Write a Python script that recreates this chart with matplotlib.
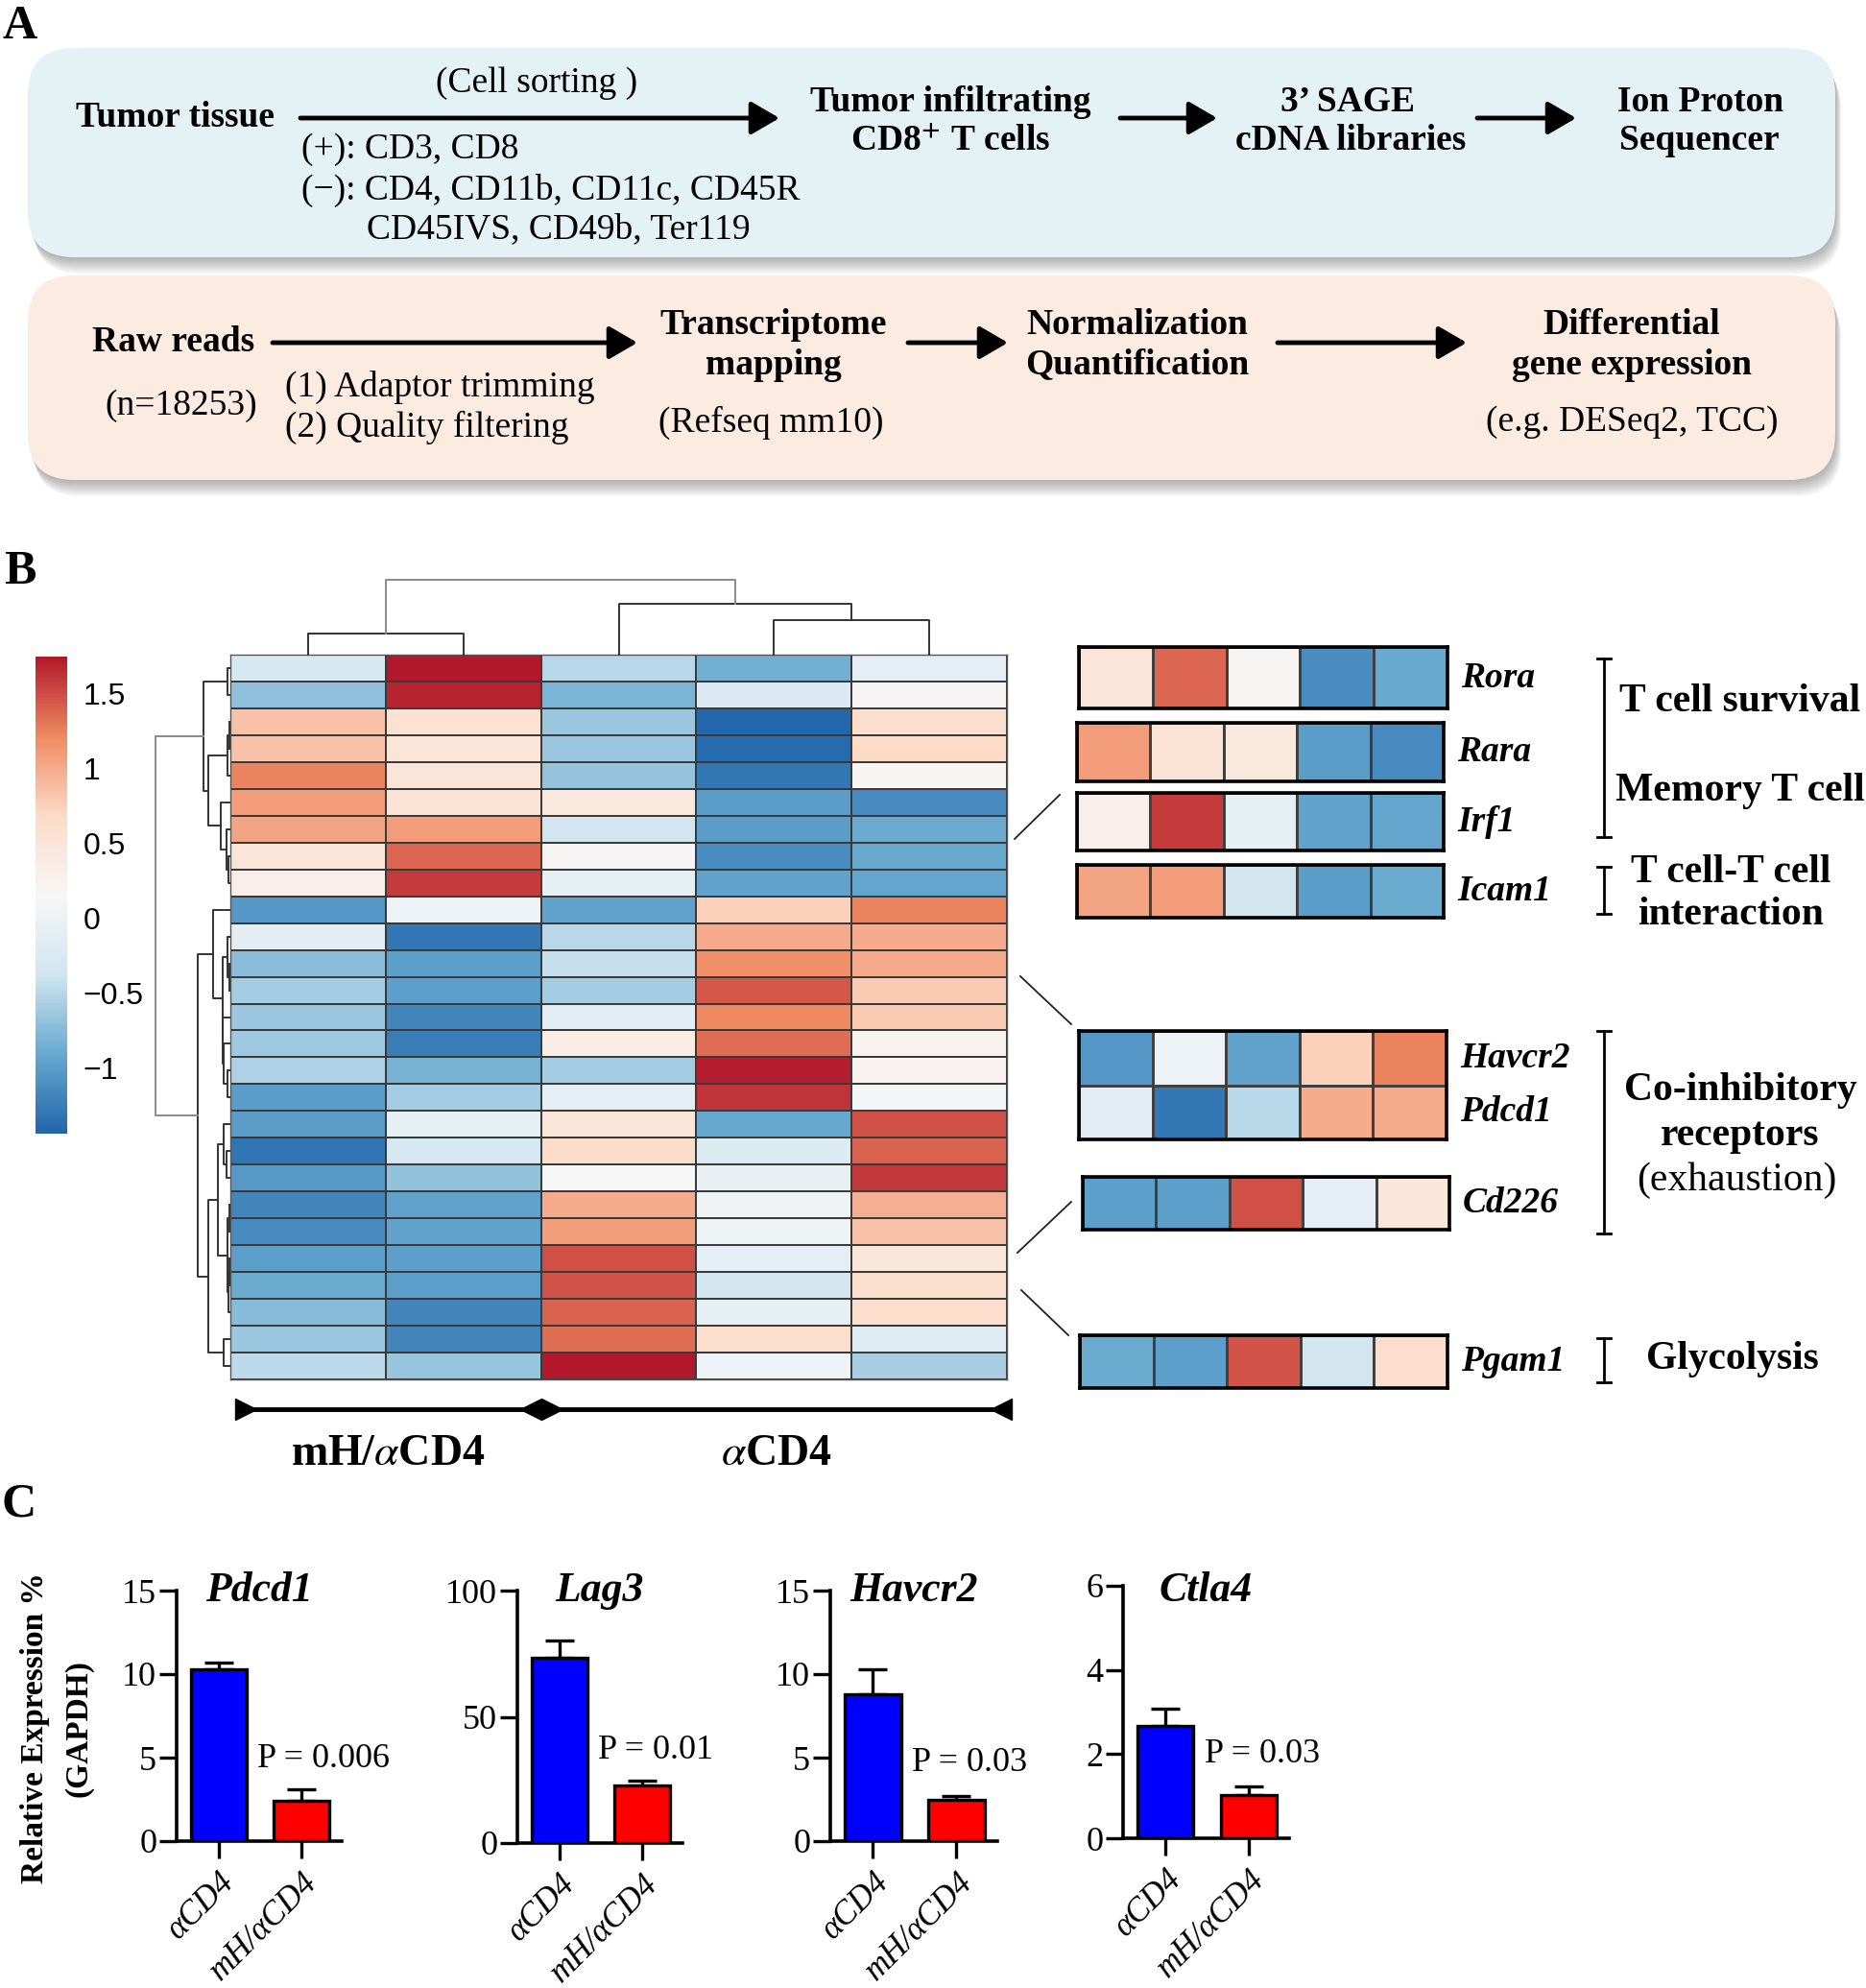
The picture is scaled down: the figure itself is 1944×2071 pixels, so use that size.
import numpy as np
import matplotlib
matplotlib.use('Agg')
import matplotlib.pyplot as plt
from matplotlib.colors import LinearSegmentedColormap
from matplotlib.patches import FancyBboxPatch

plt.rcParams['font.family'] = ['Liberation Serif', 'DejaVu Serif']
plt.rcParams['mathtext.fontset'] = 'stix'

W, H = 1944, 2071

# ---- panel B data: z-scores, 27 genes x 5 samples
heat_values = np.array([
    [-0.30, 1.75, -0.50, -0.85, -0.10],
    [-0.70, 1.70, -0.80, -0.25, 0.20],
    [0.85, 0.55, -0.65, -1.42, 0.62],
    [0.85, 0.50, -0.65, -1.40, 0.68],
    [1.25, 0.50, -0.67, -1.30, 0.20],
    [1.10, 0.52, 0.45, -1.00, -1.15],
    [1.05, 1.10, -0.35, -1.00, -0.88],
    [0.50, 1.38, 0.18, -1.12, -0.90],
    [0.30, 1.58, -0.08, -0.95, -0.93],
    [-1.05, 0.00, -0.95, 0.75, 1.25],
    [-0.12, -1.30, -0.50, 1.00, 1.00],
    [-0.72, -0.98, -0.43, 1.18, 1.00],
    [-0.60, -0.98, -0.60, 1.45, 0.80],
    [-0.65, -1.18, -0.12, 1.22, 0.80],
    [-0.62, -1.25, 0.35, 1.35, 0.25],
    [-0.55, -0.82, -0.60, 1.72, 0.23],
    [-1.00, -0.60, -0.10, 1.62, 0.10],
    [-1.00, -0.08, 0.50, -0.92, 1.48],
    [-1.32, -0.30, 0.65, -0.22, 1.40],
    [-1.03, -0.68, 0.15, -0.05, 1.60],
    [-1.18, -0.96, 1.00, 0.05, 0.97],
    [-1.15, -0.95, 1.08, 0.03, 0.85],
    [-0.98, -0.98, 1.48, -0.10, 0.47],
    [-0.88, -0.98, 1.47, -0.35, 0.62],
    [-0.75, -1.18, 1.40, -0.08, 0.62],
    [-0.65, -1.18, 1.35, 0.62, -0.20],
    [-0.48, -0.66, 1.75, 0.00, -0.58],
])
vmin, vmax = -1.44, 1.75

# dendrograms: (left, right, height) with leaves as row/column index
col_tree = ((0, 1, 22), (2, (3, 4, 36), 53), 78.5)
row_tree = (
    ((0, 1, 2.7),
     (((2, 3, 0.7), 4, 2.7), (5, (6, (7, 8, 1.0), 3.7), 9.3), 22.7), 27.0),
    ((9, ((10, (11, 12, 0.4), 2.7), (13, (14, (15, 16, 2.7), 6.7), 7.0), 7.7), 17.7),
     (((17, (18, 19, 3.3), 6.0), ((20, 21, 0.7), ((22, 23, 0.4), 24, 1.0), 2.7), 12.0),
      (25, 26, 6.7), 22.0), 33.7),
    77.7)

cbar_ticks = [1.5, 1, 0.5, 0, -0.5, -1]
cbar_labels = ['1.5', '1', '0.5', '0', '\u22120.5', '\u22121']

gene_names = ['Rora', 'Rara', 'Irf1', 'Icam1', 'Havcr2', 'Pdcd1', 'Cd226', 'Pgam1']
gene_rows = [7, 5, 8, 6, 9, 10, 22, 23]
gene_panels = [[0], [1], [2], [3], [4, 5], [6], [7]]

group_names = ['mH/$\\alpha$CD4', '$\\alpha$CD4']

# ---- panel C data
bar_genes = ['Pdcd1', 'Lag3', 'Havcr2', 'Ctla4']
bar_groups = ['\u03b1CD4', 'mH/\u03b1CD4']
bar_means = [[10.3, 2.4], [73.2, 22.9], [8.8, 2.45], [2.68, 1.02]]
bar_errs = [[0.38, 0.72], [7.0, 2.0], [1.5, 0.27], [0.39, 0.22]]
y_max = [15, 100, 15, 6]
y_ticks = [[0, 5, 10, 15], [0, 50, 100], [0, 5, 10, 15], [0, 2, 4, 6]]
p_texts = ['P = 0.006', 'P = 0.01', 'P = 0.03', 'P = 0.03']
p_y = [4.9, 36.8, 4.7, 2.0]

fig = plt.figure(figsize=(W / 100, H / 100), dpi=100)


def add_ax(x0, y0, x1, y1):
    return fig.add_axes([x0 / W, 1 - y1 / H, (x1 - x0) / W, (y1 - y0) / H])


ov = fig.add_axes([0, 0, 1, 1])
ov.set_xlim(0, W)
ov.set_ylim(H, 0)
ov.axis('off')

# ================= panel A
ov.text(2, 40, 'A', fontsize=36, weight='bold', ha='left', va='baseline')


def soft_box(x0, y0, x1, y1, fc):
    for k in range(9, 0, -1):
        ov.add_patch(FancyBboxPatch((x0 + k * 0.7, y0 + k * 1.9), x1 - x0, y1 - y0,
                                    boxstyle='round,pad=0,rounding_size=48',
                                    fc='#000000', ec='none', alpha=0.035))
    ov.add_patch(FancyBboxPatch((x0, y0), x1 - x0, y1 - y0,
                                boxstyle='round,pad=0,rounding_size=48', fc=fc, ec='none'))


soft_box(29, 50, 1912, 268, '#e5f2f5')
soft_box(29, 287, 1912, 500, '#fcebe1')

panelA_texts = [
    ('Tumor tissue', 182, 123, 'bold', 'center'),
    ('(Cell sorting )', 559, 87, 'normal', 'center'),
    ('(+): CD3, CD8', 314, 156, 'normal', 'left'),
    ('(\u2212): CD4, CD11b, CD11c, CD45R', 314, 198, 'normal', 'left'),
    ('CD45IVS, CD49b, Ter119', 382, 239, 'normal', 'left'),
    ('Tumor infiltrating', 990, 106, 'bold', 'center'),
    ('CD8$^{\\mathbf{+}}$ T cells', 990, 147, 'bold', 'center'),
    ('3\u2019 SAGE', 1404, 106, 'bold', 'center'),
    ('cDNA libraries', 1407, 147, 'bold', 'center'),
    ('Ion Proton', 1772, 106, 'bold', 'center'),
    ('Sequencer', 1770, 147, 'bold', 'center'),
    ('Raw reads', 181, 357, 'bold', 'center'),
    ('(n=18253)', 189, 423, 'normal', 'center'),
    ('(1) Adaptor trimming', 297, 403, 'normal', 'left'),
    ('(2) Quality filtering', 297, 445, 'normal', 'left'),
    ('Transcriptome', 806, 338, 'bold', 'center'),
    ('mapping', 806, 380, 'bold', 'center'),
    ('(Refseq mm10)', 803, 440, 'normal', 'center'),
    ('Normalization', 1185, 338, 'bold', 'center'),
    ('Quantification', 1185, 380, 'bold', 'center'),
    ('Differential', 1700, 338, 'bold', 'center'),
    ('gene expression', 1700, 380, 'bold', 'center'),
    ('(e.g. DESeq2, TCC)', 1700, 440, 'normal', 'center'),
]
for txt, x, y, wt, ha in panelA_texts:
    ov.text(x, y, txt, fontsize=27, weight=wt, ha=ha, va='center')

for x0, x1, y in [(313, 812, 123), (1167, 1268, 123), (1539, 1642, 123),
                  (284, 664, 357), (946, 1050, 357), (1331, 1528, 357)]:
    ov.annotate('', xy=(x1, y), xytext=(x0, y),
                arrowprops=dict(arrowstyle='-|>,head_length=0.6,head_width=0.35',
                                lw=3.5, color='k', shrinkA=0, shrinkB=0, mutation_scale=30))

# ================= panel B
ov.text(4, 608, 'B', fontsize=36, weight='bold', ha='left', va='baseline')

cmap = LinearSegmentedColormap.from_list(
    'rdbu7', ['#2166ac', '#67a9cf', '#d1e5f0', '#f7f7f7', '#fddbc7', '#ef8a62', '#b2182b'])

hm = add_ax(240, 682, 1049, 1437)
mesh = hm.pcolormesh(heat_values, cmap=cmap, vmin=vmin, vmax=vmax,
                     edgecolors='#3a3a3a', linewidth=1.1)
hm.set_xlim(0, 5)
hm.set_ylim(27, 0)
hm.set_xticks([])
hm.set_yticks([])
for s in hm.spines.values():
    s.set_color('#555555')
    s.set_linewidth(1)


def draw_tree(ax, node, vertical, depth=0):
    if isinstance(node, int):
        return node + 0.5, 0.0
    a, b, h = node
    pa, ha_ = draw_tree(ax, a, vertical, depth + 1)
    pb, hb = draw_tree(ax, b, vertical, depth + 1)
    hs = [ha_, h, h, hb]
    ps = [pa, pa, pb, pb]
    col = '#8a8a8a' if depth == 0 else '#333333'
    if vertical:
        ax.plot(hs, ps, color=col, lw=1.4, clip_on=False)
    else:
        ax.plot(ps, hs, color=col, lw=1.4, clip_on=False)
    return (pa + pb) / 2, h


dl = add_ax(150, 682, 239.3, 1437)
draw_tree(dl, row_tree, True)
dl.set_xlim(89.3, 0)
dl.set_ylim(27, 0)
dl.axis('off')

dt = add_ax(240, 598, 1049, 682)
draw_tree(dt, col_tree, False)
dt.set_xlim(0, 5)
dt.set_ylim(0, 84)
dt.axis('off')

cax = add_ax(37, 684, 70, 1181)
cb = fig.colorbar(mesh, cax=cax, ticks=cbar_ticks)
cb.outline.set_visible(False)
cax.set_yticklabels(cbar_labels, family='Liberation Sans', fontsize=23)
cax.tick_params(length=0, pad=12)

# group bars below the heatmap
for (x0, x1), name in zip([(249, 560), (568, 1050)], group_names):
    ov.plot([x0, x1], [1468, 1468], color='k', lw=3.5, solid_capstyle='butt')
    ov.plot([x0 + 7], [1468], marker='>', color='k', ms=16)
    ov.plot([x1 - 7], [1468], marker='<', color='k', ms=16)
    ov.text((x0 + x1) / 2, 1515, name, fontsize=33, weight='bold', ha='center', va='center')

# zoomed gene panels
gene_boxes = [(1124, 674, 1508, 738), (1122, 753, 1504, 814), (1122, 826, 1504, 886),
              (1122, 901, 1504, 956), (1124, 1074, 1507, 1187), (1128, 1226, 1510, 1281),
              (1125, 1391, 1508, 1446)]
for box, idx in zip(gene_boxes, gene_panels):
    gx = add_ax(*box)
    vals = heat_values[[gene_rows[i] for i in idx]]
    gx.pcolormesh(vals, cmap=cmap, vmin=vmin, vmax=vmax, edgecolors='#404040', linewidth=0.8)
    gx.set_xlim(0, 5)
    gx.set_ylim(len(idx), 0)
    gx.set_xticks([])
    gx.set_yticks([])
    for s in gx.spines.values():
        s.set_linewidth(2.6)
        s.set_color('k')
    rh = (box[3] - box[1]) / len(idx)
    for k, i in enumerate(idx):
        ov.text(box[2] + 14, box[1] + rh * (k + 0.5), gene_names[i], fontsize=27,
                weight='bold', style='italic', ha='left', va='center')

# connectors from heatmap to gene panels
for (x0, y0), (x1, y1) in [((1057, 874), (1104, 828)), ((1063, 1017), (1116, 1067)),
                           ((1060, 1305), (1116, 1252)), ((1064, 1344), (1113, 1391))]:
    ov.plot([x0, x1], [y0, y1], color='#222222', lw=1.3)

# I-beam brackets and functional labels
for y0, y1 in [(686, 872), (903, 952), (1074, 1285), (1394, 1440)]:
    ov.plot([1671, 1671], [y0, y1], color='k', lw=2)
    ov.plot([1664, 1678], [y0, y0], color='k', lw=2)
    ov.plot([1664, 1678], [y1, y1], color='k', lw=2)

for txt, x, y, wt in [('T cell survival', 1813, 731, 'bold'), ('Memory T cell', 1813, 824, 'bold'),
                      ('T cell-T cell', 1803, 909, 'bold'), ('interaction', 1803, 953, 'bold'),
                      ('Co-inhibitory', 1813, 1136, 'bold'), ('receptors', 1813, 1183, 'bold'),
                      ('(exhaustion)', 1809, 1230, 'normal'), ('Glycolysis', 1805, 1416, 'bold')]:
    ov.text(x, y, txt, fontsize=30, weight=wt, ha='center', va='center')

# ================= panel C
ov.text(2, 1580, 'C', fontsize=36, weight='bold', ha='left', va='baseline')
ov.text(37, 1800, 'Relative Expression %', rotation=90, fontsize=24, weight='bold',
        ha='center', va='center')
ov.text(82, 1800, '(GAPDH)', rotation=90, fontsize=24, weight='bold', ha='center', va='center')

bar_axes_px = [(184, 1657, 356, 1918), (539, 1657, 711, 1920),
               (865, 1657, 1039, 1918), (1170, 1652, 1343, 1915)]
for i, box in enumerate(bar_axes_px):
    ax = add_ax(*box)
    ax.patch.set_visible(False)
    ax.bar([0, 1], bar_means[i], width=0.67, color=['#0000ff', '#ff0000'],
           edgecolor='k', linewidth=2.4, zorder=3)
    ax.errorbar([0, 1], bar_means[i], yerr=[[0, 0], bar_errs[i]], fmt='none', ecolor='k',
                elinewidth=2.4, capsize=11, capthick=2.4, zorder=2)
    ax.set_xlim(-0.51, 1.49)
    ax.set_ylim(0, y_max[i])
    ax.set_yticks(y_ticks[i])
    ax.set_xticks([0, 1])
    ax.set_xticklabels(bar_groups, rotation=45, ha='right', rotation_mode='anchor',
                       style='italic', fontsize=25)
    ax.tick_params(axis='both', length=13, width=2.4)
    ax.tick_params(axis='y', pad=2, labelsize=26)
    ax.tick_params(axis='x', pad=6)
    for s in ['top', 'right']:
        ax.spines[s].set_visible(False)
    for s in ['left', 'bottom']:
        ax.spines[s].set_linewidth(2.6)
    # gene titles all sit on the same line across the row
    ov.text((box[0] + box[2]) / 2, 1657, bar_genes[i], fontsize=31.5, weight='bold',
            style='italic', ha='center', va='center')
    ax.text(0.47, p_y[i], p_texts[i], fontsize=26, ha='left', va='center')

fig.savefig('out.png', dpi=100)
